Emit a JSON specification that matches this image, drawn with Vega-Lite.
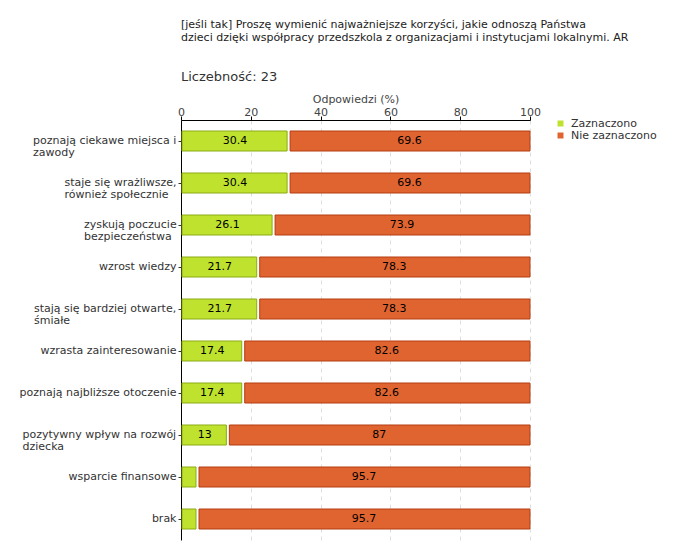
{
  "$schema": "https://vega.github.io/schema/vega-lite/v6.json",
  "width": 349,
  "height": 420,
  "autosize": {"type": "none"},
  "padding": {"left": 181, "top": 120, "right": 150, "bottom": 20},
  "background": "white",
  "config": {"font": "DejaVu Sans", "view": {"stroke": null}},
  "title": {
    "text": ["[jeśli tak] Proszę wymienić najważniejsze korzyści, jakie odnoszą Państwa", "dzieci dzięki współpracy przedszkola z organizacjami i instytucjami lokalnymi. AR"],
    "subtitle": "Liczebność: 23",
    "anchor": "start",
    "frame": "group",
    "font": "DejaVu Sans",
    "fontSize": 11,
    "fontWeight": "normal",
    "color": "#222222",
    "lineHeight": 13,
    "subtitleFont": "DejaVu Sans",
    "subtitleFontSize": 13,
    "subtitleColor": "#333333",
    "subtitlePadding": 28,
    "offset": 10
  },
  "data": {
    "values": [
      {"kategoria": "poznają ciekawe miejsca i zawody", "Zaznaczono": 30.4, "Nie zaznaczono": 69.6},
      {"kategoria": "staje się wrażliwsze, również społecznie", "Zaznaczono": 30.4, "Nie zaznaczono": 69.6},
      {"kategoria": "zyskują poczucie bezpieczeństwa", "Zaznaczono": 26.1, "Nie zaznaczono": 73.9},
      {"kategoria": "wzrost wiedzy", "Zaznaczono": 21.7, "Nie zaznaczono": 78.3},
      {"kategoria": "stają się bardziej otwarte, śmiałe", "Zaznaczono": 21.7, "Nie zaznaczono": 78.3},
      {"kategoria": "wzrasta zainteresowanie", "Zaznaczono": 17.4, "Nie zaznaczono": 82.6},
      {"kategoria": "poznają najbliższe otoczenie", "Zaznaczono": 17.4, "Nie zaznaczono": 82.6},
      {"kategoria": "pozytywny wpływ na rozwój dziecka", "Zaznaczono": 13, "Nie zaznaczono": 87},
      {"kategoria": "wsparcie finansowe", "Zaznaczono": 4.3, "Nie zaznaczono": 95.7},
      {"kategoria": "brak", "Zaznaczono": 4.3, "Nie zaznaczono": 95.7}
    ]
  },
  "transform": [
    {"fold": ["Zaznaczono", "Nie zaznaczono"], "as": ["seria", "wartosc"]},
    {"stack": "wartosc", "groupby": ["kategoria"], "sort": [{"field": "seria", "order": "descending"}], "as": ["od", "do"]}
  ],
  "encoding": {
    "y": {
      "field": "kategoria",
      "type": "nominal",
      "sort": null,
      "scale": {"paddingInner": 0.5, "paddingOuter": 0.25},
      "axis": {
        "title": null,
        "labelFontSize": 11,
        "labelColor": "#333333",
        "labelLimit": 300,
        "domainColor": "black",
        "tickColor": "#333333",
        "tickSize": 3,
        "labelExpr": "datum.label == 'poznają ciekawe miejsca i zawody' ? ['poznają ciekawe miejsca i', 'zawody'] : datum.label == 'staje się wrażliwsze, również społecznie' ? ['staje się wrażliwsze,', 'również społecznie'] : datum.label == 'zyskują poczucie bezpieczeństwa' ? ['zyskują poczucie', 'bezpieczeństwa'] : datum.label == 'stają się bardziej otwarte, śmiałe' ? ['stają się bardziej otwarte,', 'śmiałe'] : datum.label == 'pozytywny wpływ na rozwój dziecka' ? ['pozytywny wpływ na rozwój', 'dziecka'] : datum.label",
        "labelLineHeight": 12,
        "labelAlign": {
          "condition": {"test": "indexof(['poznają ciekawe miejsca i zawody', 'staje się wrażliwsze, również społecznie', 'zyskują poczucie bezpieczeństwa', 'stają się bardziej otwarte, śmiałe', 'pozytywny wpływ na rozwój dziecka'], datum.value) >= 0", "value": "left"},
          "value": "right"
        },
        "labelPadding": {
          "condition": [
            {"test": "datum.value == 'poznają ciekawe miejsca i zawody'", "value": 145.5},
            {"test": "datum.value == 'staje się wrażliwsze, również społecznie'", "value": 114},
            {"test": "datum.value == 'zyskują poczucie bezpieczeństwa'", "value": 94.5},
            {"test": "datum.value == 'stają się bardziej otwarte, śmiałe'", "value": 144.5},
            {"test": "datum.value == 'pozytywny wpływ na rozwój dziecka'", "value": 156}
          ],
          "value": 2
        }
      }
    }
  },
  "layer": [
    {
      "transform": [{"filter": "datum.seria == 'Zaznaczono'"}],
      "mark": {"type": "bar", "size": 20, "stroke": "#8cab14", "strokeWidth": 1, "xOffset": 1},
      "encoding": {
        "x": {
          "field": "od",
          "type": "quantitative",
          "scale": {"domain": [0, 100]},
          "axis": {
            "orient": "top",
            "title": "Odpowiedzi (%)",
            "titleFontSize": 11,
            "titleFontWeight": "normal",
            "titleColor": "#444444",
            "titlePadding": 2,
            "values": [0, 10, 20, 30, 40, 50, 60, 70, 80, 90, 100],
            "labelExpr": "datum.value % 20 === 0 ? datum.label : ''",
            "labelFontSize": 11,
            "labelColor": "#444444",
            "labelPadding": -1.5,
            "labelFlush": false,
            "labelOverlap": false,
            "domainColor": "black",
            "tickColor": {"condition": {"test": "datum.value % 20 !== 0", "value": "#dd0000"}, "value": "black"},
            "tickSize": {"condition": {"test": "datum.value % 20 !== 0", "value": 3}, "value": 4},
            "grid": true,
            "gridColor": "#dddddd",
            "gridDash": [4, 4],
            "gridOpacity": {"condition": {"test": "datum.value % 20 !== 0 || datum.value === 0", "value": 0}, "value": 1}
          }
        },
        "x2": {"field": "do"},
        "color": {
          "field": "seria",
          "type": "nominal",
          "scale": {"domain": ["Zaznaczono", "Nie zaznaczono"], "range": ["#bee22e", "#e06430"]},
          "legend": {
            "title": null,
            "orient": "none",
            "legendX": 374,
            "legendY": -2,
            "symbolType": "square",
            "symbolSize": 36,
            "symbolStrokeWidth": 0,
            "labelFontSize": 11,
            "labelColor": "#333333",
            "labelOffset": 5,
            "rowPadding": 0
          }
        }
      }
    },
    {
      "transform": [{"filter": "datum.seria == 'Nie zaznaczono'"}],
      "mark": {"type": "bar", "size": 20, "stroke": "#b63c10", "strokeWidth": 1, "xOffset": 3},
      "encoding": {
        "x": {"field": "od", "type": "quantitative"},
        "x2": {"field": "do"},
        "color": {"field": "seria", "type": "nominal"}
      }
    },
    {
      "transform": [
        {"filter": "datum.seria == 'Nie zaznaczono' || datum.wartosc >= 10"},
        {"fold": ["od", "do"], "as": ["kraniec", "poz"]}
      ],
      "mark": {"type": "text", "fontSize": 11, "color": "black", "baseline": "middle", "dx": 1},
      "encoding": {
        "x": {"aggregate": "mean", "field": "poz", "type": "quantitative"},
        "detail": {"field": "seria", "type": "nominal"},
        "text": {"field": "wartosc", "type": "nominal"}
      }
    }
  ]
}
